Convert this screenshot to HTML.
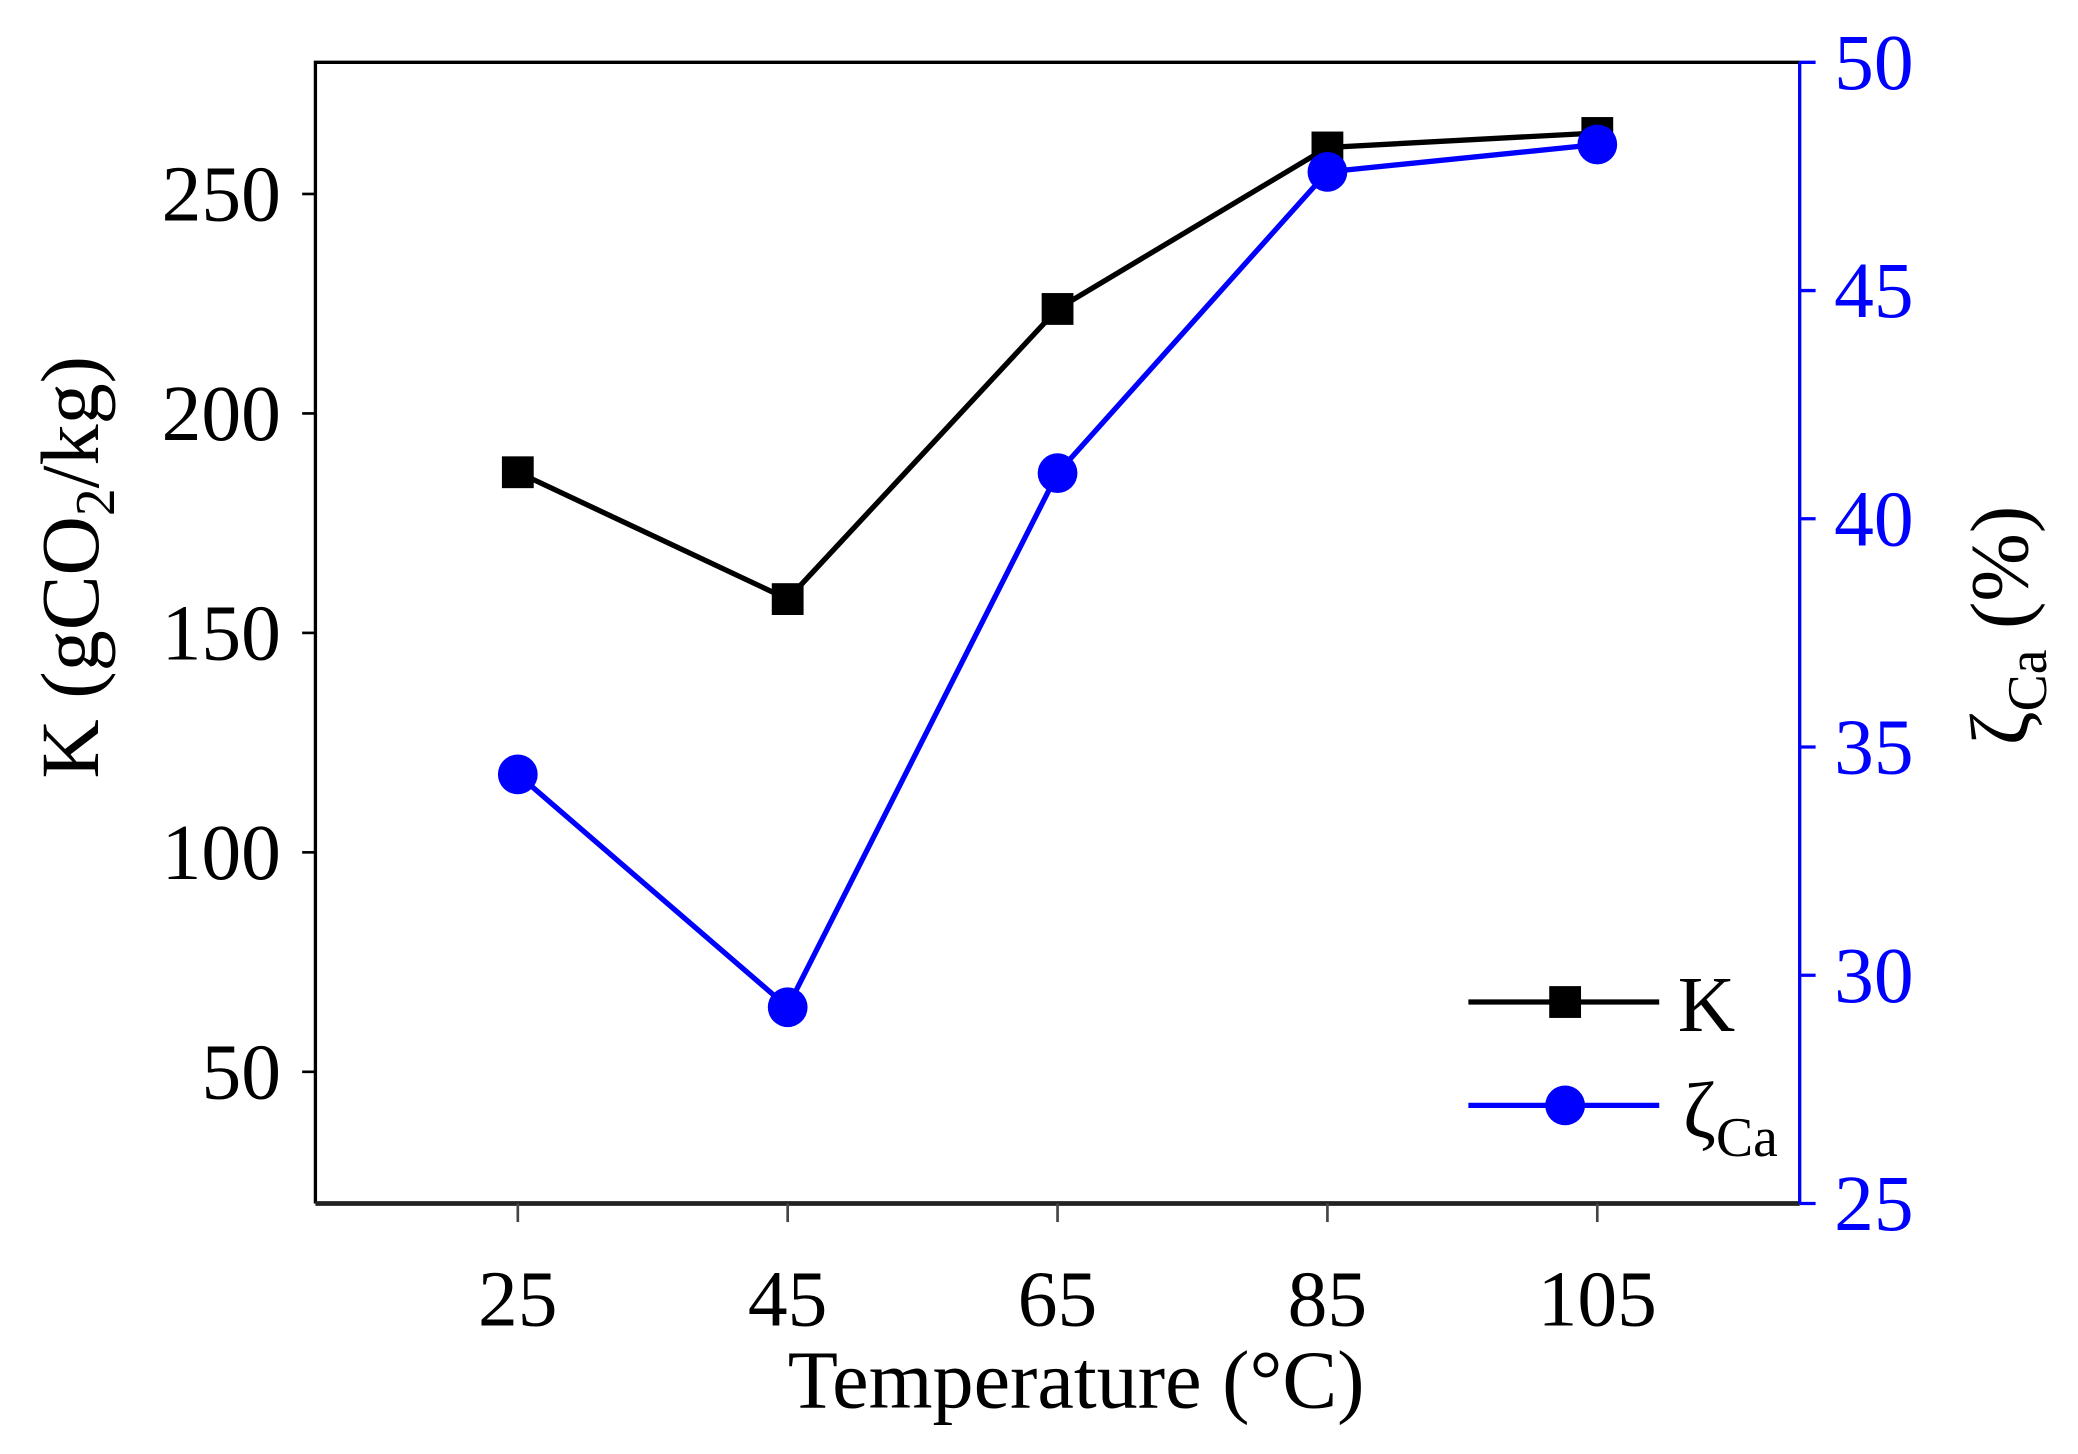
<!DOCTYPE html>
<html><head><meta charset="utf-8"><style>
html,body{margin:0;padding:0;background:#fff;}
svg{display:block;font-family:"Liberation Serif",serif;}
</style></head><body>
<svg id="chart" width="2078" height="1454" viewBox="0 0 1568 1097" preserveAspectRatio="none">
<g id="axes"></g>
<g id="series"></g>
<g id="legend">
  <line x1="1108" y1="756" x2="1252" y2="756" stroke="#000" stroke-width="4"/>
  <rect x="1169" y="744" width="24" height="24" fill="#000"/>
  <text x="1266" y="778" font-size="60">K</text>
  <line x1="1108" y1="834" x2="1252" y2="834" stroke="#0000ff" stroke-width="4"/>
  <circle cx="1181" cy="834" r="15" fill="#0000ff"/>
  <text x="1270" y="858" font-size="60">ζ<tspan font-size="42" dy="14">Ca</tspan></text>
</g>
</svg>
<script>
const categories = [25, 45, 65, 85, 105];
const kValues = [186.6, 157.7, 223.8, 260.6, 263.9];
const zetaValues = [34.4, 29.3, 41.0, 47.6, 48.2];
const leftTicks = [50, 100, 150, 200, 250];
const rightTicks = [25, 30, 35, 40, 45, 50];
const xTicks = [25, 45, 65, 85, 105];

const L = 238, R = 1358, T = 47, B = 908;
const xMin = 10, xMax = 120, lMin = 20, lMax = 280, rMin = 25, rMax = 50;
const xs = v => L + (v - xMin) / (xMax - xMin) * (R - L);
const yl = v => B - (v - lMin) / (lMax - lMin) * (B - T);
const yr = v => B - (v - rMin) / (rMax - rMin) * (B - T);
const NS = 'http://www.w3.org/2000/svg';
function mk(parent, tag, attrs, text) {
  const e = document.createElementNS(NS, tag);
  for (const k in attrs) e.setAttribute(k, attrs[k]);
  if (text !== undefined) e.textContent = text;
  parent.appendChild(e);
  return e;
}
const axes = document.getElementById('axes');
const series = document.getElementById('series');

let el;
el = mk(axes, 'path', {d: `M${L},${B} L${L},${T} L${R},${T}`, fill: 'none', stroke: '#000', 'stroke-width': 2.5});


el = mk(axes, 'line', {x1: L, y1: B, x2: R, y2: B, stroke: '#222', 'stroke-width': 3.5});


el = mk(axes, 'line', {x1: R, y1: T, x2: R, y2: B, stroke: '#0000ff', 'stroke-width': 2.5});



leftTicks.forEach(v => {
  mk(axes, 'line', {x1: L - 10, y1: yl(v), x2: L, y2: yl(v), stroke: '#000', 'stroke-width': 2});
  el = mk(axes, 'text', {x: L - 26, y: yl(v) + 20, 'text-anchor': 'end', 'font-size': 60}, v);
  
  
});
rightTicks.forEach(v => {
  mk(axes, 'line', {x1: R, y1: yr(v), x2: R + 12, y2: yr(v), stroke: '#0000ff', 'stroke-width': 2.5});
  el = mk(axes, 'text', {x: R + 26, y: yr(v) + 20, fill: '#0000ff', 'font-size': 60}, v);
  
  
});
xTicks.forEach(v => {
  mk(axes, 'line', {x1: xs(v), y1: B, x2: xs(v), y2: B + 14, stroke: '#444', 'stroke-width': 2});
  el = mk(axes, 'text', {x: xs(v), y: B + 92, 'text-anchor': 'middle', 'font-size': 60}, v);
  
  
});

el = mk(axes, 'text', {x: 812, y: 1062, 'text-anchor': 'middle', 'font-size': 62}, 'Temperature (°C)');



el = mk(axes, 'text', {transform: `translate(74,428) rotate(-90)`, 'text-anchor': 'middle', 'font-size': 62});


el.innerHTML = 'K (gCO<tspan font-size="42" dy="12">2</tspan><tspan dy="-12">/kg)</tspan>';

el = mk(axes, 'text', {transform: `translate(1530,472) rotate(-90)`, 'text-anchor': 'middle', 'font-size': 62});


el.innerHTML = 'ζ<tspan font-size="42" dy="14">Ca</tspan><tspan dy="-14"> (%)</tspan>';

el = mk(series, 'polyline', {points: categories.map((c, i) => xs(c) + ',' + yl(kValues[i])).join(' '), fill: 'none', stroke: '#000', 'stroke-width': 4});


el = mk(series, 'polyline', {points: categories.map((c, i) => xs(c) + ',' + yr(zetaValues[i])).join(' '), fill: 'none', stroke: '#0000ff', 'stroke-width': 4});


categories.forEach((c, i) => {
  el = mk(series, 'rect', {x: xs(c) - 12, y: yl(kValues[i]) - 12, width: 24, height: 24, fill: '#000'});
  
  
});
categories.forEach((c, i) => {
  el = mk(series, 'circle', {cx: xs(c), cy: yr(zetaValues[i]), r: 15, fill: '#0000ff'});
  
  
});
</script>
</body></html>
